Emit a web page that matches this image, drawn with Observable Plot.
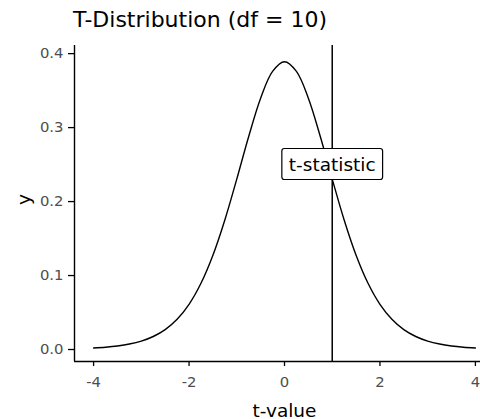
<!DOCTYPE html>
<html>
<head>
<meta charset="utf-8">
<script src="https://cdn.jsdelivr.net/npm/d3@7"></script>
<script src="https://cdn.jsdelivr.net/npm/@observablehq/plot@0.6"></script>
<style>
  html, body { margin: 0; padding: 0; background: #fff; overflow: hidden; }
  #wrap { width: 480px; height: 419px; overflow: hidden; position: relative; }
  #title {
    font-family: "DejaVu Sans", sans-serif;
    font-size: 22px;
    line-height: 40px;
    height: 40px;
    padding-left: 73px;
    color: #000;
    white-space: nowrap;
  }
  #chart svg { max-width: none; display: block; }
</style>
</head>
<body>
<div id="wrap">
  <div id="title">T-Distribution (df = 10)</div>
  <div id="chart"></div>
</div>
<script>
// Student's t density, df = 10
const tValues = [-4, -3.75, -3.5, -3.25, -3, -2.75, -2.5, -2.25, -2, -1.75, -1.5, -1.25, -1, -0.75, -0.5, -0.25,
                 0, 0.25, 0.5, 0.75, 1, 1.25, 1.5, 1.75, 2, 2.25, 2.5, 2.75, 3, 3.25, 3.5, 3.75, 4];
const density = [0.00203, 0.00311, 0.00478, 0.00738, 0.0114, 0.0176, 0.0269, 0.0409, 0.0611, 0.0895, 0.1274, 0.1751, 0.2304, 0.2880, 0.3397, 0.3760,
                 0.3891, 0.3760, 0.3397, 0.2880, 0.2304, 0.1751, 0.1274, 0.0895, 0.0611, 0.0409, 0.0269, 0.0176, 0.0114, 0.00738, 0.00478, 0.00311, 0.00203];

// observed statistic and its label
const tStatistic = 1;
const labelY = 0.25;
const labelText = "t-statistic";

const xTicks = [-4, -2, 0, 2, 4];
const yTicks = [0, 0.1, 0.2, 0.3, 0.4];
const xDomain = [-4.4, 4.4];
const yDomain = [-0.0162, 0.411];
const xTitle = "t-value";
const yTitle = "y";

const curve = tValues.map((t, i) => ({t, y: density[i]}));
const labels = [{t: tStatistic, y: labelY, text: labelText}];

const tickColor = "#4d4d4d";

const svg = Plot.plot({
  width: 500,
  height: 379,
  marginLeft: 74,
  marginRight: 6,
  marginTop: 5,
  marginBottom: 58,
  style: {fontFamily: "DejaVu Sans, sans-serif", background: "#fff", color: "#000", maxWidth: "none"},
  x: {domain: xDomain},
  y: {domain: yDomain},
  marks: [
    Plot.axisX(xTicks, {
      tickSize: 5, tickPadding: 10, fontSize: 14.8,
      tickFormat: d => String(d), label: null,
      stroke: "#000", strokeWidth: 1.3, fill: tickColor
    }),
    Plot.axisY(yTicks, {
      tickSize: 6, tickPadding: 5, fontSize: 14.8,
      tickFormat: d3.format(".1f"), label: null,
      stroke: "#000", strokeWidth: 1.3, fill: tickColor
    }),
    Plot.ruleX([xDomain[0]], {stroke: "#000", strokeWidth: 1.4}),
    Plot.ruleY([yDomain[0]], {stroke: "#000", strokeWidth: 1.4}),
    Plot.text([xTitle], {text: d => d, frameAnchor: "bottom", lineAnchor: "bottom", dy: 55, fontSize: 18.5, fill: "#000"}),
    Plot.text([yTitle], {text: d => d, frameAnchor: "left", textAnchor: "middle", lineAnchor: "middle", rotate: -90, dx: -50, dy: -4, fontSize: 18.5, fill: "#000"}),
    Plot.line(curve, {x: "t", y: "y", stroke: "#000", strokeWidth: 1.4, curve: "catmull-rom"}),
    Plot.ruleX([tStatistic], {stroke: "#000", strokeWidth: 1.5}),
    Plot.text(labels, {x: "t", y: "y", text: "text", fontSize: 18.5, fill: "#000"})
  ]
});

document.getElementById("chart").append(svg);

// white rounded box behind the statistic label
d3.select(svg).selectAll("text")
  .filter(function () { return this.textContent === labelText; })
  .each(function () {
    const bb = this.getBBox();
    const padX = 7, padY = 5;
    const rect = document.createElementNS("http://www.w3.org/2000/svg", "rect");
    rect.setAttribute("x", bb.x - padX);
    rect.setAttribute("y", bb.y - padY);
    rect.setAttribute("width", bb.width + 2 * padX);
    rect.setAttribute("height", bb.height + 2 * padY);
    rect.setAttribute("rx", 2.5);
    rect.setAttribute("fill", "#fff");
    rect.setAttribute("stroke", "#000");
    rect.setAttribute("stroke-width", 1.2);
    const tr = this.getAttribute("transform");
    if (tr) rect.setAttribute("transform", tr);
    this.parentNode.insertBefore(rect, this);
  });
</script>
</body>
</html>
